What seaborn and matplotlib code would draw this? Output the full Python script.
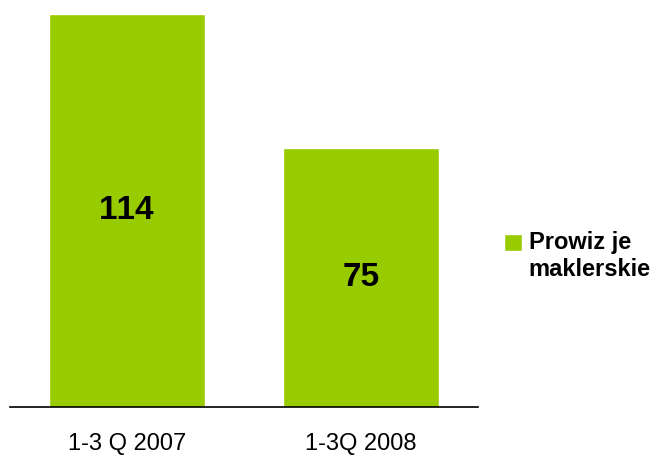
import matplotlib
matplotlib.use('Agg')
import matplotlib.pyplot as plt
import seaborn as sns

# data
periods = ['1-3 Q 2007', '1-3Q 2008']
commissions = [114, 75]
series_name = 'Prowiz je\nmaklerskie'

GREEN = '#99CC00'

sns.set_style('white')
plt.rcParams['font.family'] = ['Liberation Sans', 'DejaVu Sans']
plt.rcParams['text.color'] = 'black'
plt.rcParams['xtick.color'] = 'black'
# the original was drawn without kerning ("114" keeps its spacing)
plt.rcParams['text.kerning_factor'] = 16

fig = plt.figure(figsize=(6.66, 4.57), dpi=100)
ax = fig.add_axes([10 / 666, 50 / 457, 468 / 666, 393 / 457])

sns.barplot(x=periods, y=commissions, color=GREEN, width=0.667,
            saturation=1, label=series_name, ax=ax)

ax.set_xlim(-0.5, 1.5)
ax.set_ylim(0, 114)
ax.set_yticks([])
ax.set_ylabel('')
for side in ['top', 'right', 'left']:
    ax.spines[side].set_visible(False)
ax.spines['bottom'].set_color('black')
ax.spines['bottom'].set_linewidth(1.2)
ax.tick_params(axis='x', length=0, pad=19, labelsize=17, labelcolor='black')

# value labels in the middle of each bar
for i, v in enumerate(commissions):
    ax.text(i, v / 2, f'{v}', ha='center', va='center',
            fontsize=24, fontweight='bold', color='black')

leg = ax.legend(loc='center left', bbox_to_anchor=(504 / 666, 1 - 256 / 457),
                bbox_transform=fig.transFigure, frameon=False,
                handlelength=0.75, handleheight=0.75, handletextpad=0.3,
                borderpad=0, borderaxespad=0,
                prop={'size': 17, 'weight': 'bold'})
for t in leg.get_texts():
    t.set_color('black')
# lift the square up to the first line of the label
for h in leg.legend_handles:
    h.set_y(h.get_y() + 10.5)

fig.savefig('out.png', dpi=100)
